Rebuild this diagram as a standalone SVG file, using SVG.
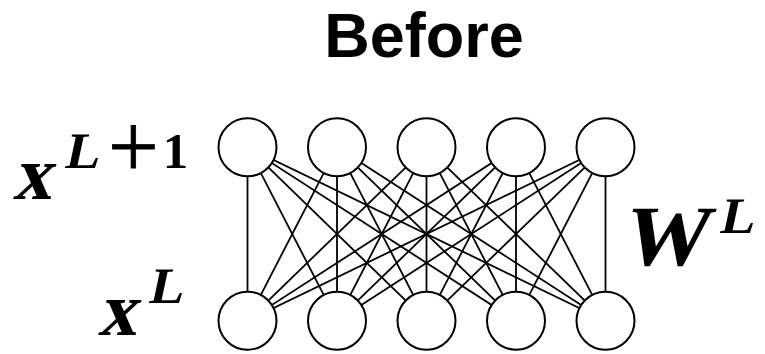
<svg xmlns="http://www.w3.org/2000/svg" width="765" height="354" viewBox="0 0 765 354">
  <style>
    .title { font-family: "Liberation Sans", Arial, sans-serif; font-weight: bold; font-size: 63px; fill: #000; }
    .math { font-family: "Liberation Serif", "Times New Roman", serif; font-weight: bold; fill: #000; }
    .var { font-size: 76px; }
    .mat { font-size: 86px; }
    .sup { font-size: 51px; }
    .op { font-family: "Liberation Serif", "Times New Roman", serif; font-size: 90px; fill: #000; stroke: #000; stroke-width: 0.8; }
    .edge { stroke: #000; stroke-width: 1.8; fill: none; }
    .neuron { fill: #fff; stroke: #000; stroke-width: 2; }
  </style>

  <text class="title" x="424" y="57" text-anchor="middle">Before</text>

  <!-- fully connected weights between layer L (bottom) and layer L+1 (top) -->
  <g id="connectors">
    <line class="edge" x1="247.5" y1="147.3" x2="247.5" y2="320.7"/>
    <line class="edge" x1="247.5" y1="147.3" x2="337" y2="320.7"/>
    <line class="edge" x1="247.5" y1="147.3" x2="426.5" y2="320.7"/>
    <line class="edge" x1="247.5" y1="147.3" x2="516" y2="320.7"/>
    <line class="edge" x1="247.5" y1="147.3" x2="605.5" y2="320.7"/>
    <line class="edge" x1="337" y1="147.3" x2="247.5" y2="320.7"/>
    <line class="edge" x1="337" y1="147.3" x2="337" y2="320.7"/>
    <line class="edge" x1="337" y1="147.3" x2="426.5" y2="320.7"/>
    <line class="edge" x1="337" y1="147.3" x2="516" y2="320.7"/>
    <line class="edge" x1="337" y1="147.3" x2="605.5" y2="320.7"/>
    <line class="edge" x1="426.5" y1="147.3" x2="247.5" y2="320.7"/>
    <line class="edge" x1="426.5" y1="147.3" x2="337" y2="320.7"/>
    <line class="edge" x1="426.5" y1="147.3" x2="426.5" y2="320.7"/>
    <line class="edge" x1="426.5" y1="147.3" x2="516" y2="320.7"/>
    <line class="edge" x1="426.5" y1="147.3" x2="605.5" y2="320.7"/>
    <line class="edge" x1="516" y1="147.3" x2="247.5" y2="320.7"/>
    <line class="edge" x1="516" y1="147.3" x2="337" y2="320.7"/>
    <line class="edge" x1="516" y1="147.3" x2="426.5" y2="320.7"/>
    <line class="edge" x1="516" y1="147.3" x2="516" y2="320.7"/>
    <line class="edge" x1="516" y1="147.3" x2="605.5" y2="320.7"/>
    <line class="edge" x1="605.5" y1="147.3" x2="247.5" y2="320.7"/>
    <line class="edge" x1="605.5" y1="147.3" x2="337" y2="320.7"/>
    <line class="edge" x1="605.5" y1="147.3" x2="426.5" y2="320.7"/>
    <line class="edge" x1="605.5" y1="147.3" x2="516" y2="320.7"/>
    <line class="edge" x1="605.5" y1="147.3" x2="605.5" y2="320.7"/>
  </g>

  <!-- layer L+1 -->
  <g id="top-1"><circle class="neuron" cx="247.5" cy="147.3" r="29"/></g>
  <g id="top-2"><circle class="neuron" cx="337" cy="147.3" r="29"/></g>
  <g id="top-3"><circle class="neuron" cx="426.5" cy="147.3" r="29"/></g>
  <g id="top-4"><circle class="neuron" cx="516" cy="147.3" r="29"/></g>
  <g id="top-5"><circle class="neuron" cx="605.5" cy="147.3" r="29"/></g>

  <!-- layer L -->
  <g id="bottom-1"><circle class="neuron" cx="247.5" cy="320.7" r="29"/></g>
  <g id="bottom-2"><circle class="neuron" cx="337" cy="320.7" r="29"/></g>
  <g id="bottom-3"><circle class="neuron" cx="426.5" cy="320.7" r="29"/></g>
  <g id="bottom-4"><circle class="neuron" cx="516" cy="320.7" r="29"/></g>
  <g id="bottom-5"><circle class="neuron" cx="605.5" cy="320.7" r="29"/></g>

  <!-- x^{L+1}; slanted bold serif for math italics -->
  <g id="label-x-next">
    <text class="math var" transform="translate(13 199) skewX(-12)">x</text>
    <text class="math sup" transform="translate(64 168) skewX(-12)">L</text>
    <text class="op" x="133.3" y="177" text-anchor="middle">+</text>
    <text class="math sup" x="175.5" y="168" text-anchor="middle">1</text>
  </g>

  <!-- x^{L} -->
  <g id="label-x">
    <text class="math var" transform="translate(98 335) skewX(-12)">x</text>
    <text class="math sup" transform="translate(148 303) skewX(-12)">L</text>
  </g>

  <!-- W^{L} -->
  <g id="label-w">
    <text class="math mat" transform="translate(620 265) skewX(-12)">W</text>
    <text class="math sup" transform="translate(719 233) skewX(-12)">L</text>
  </g>
</svg>
